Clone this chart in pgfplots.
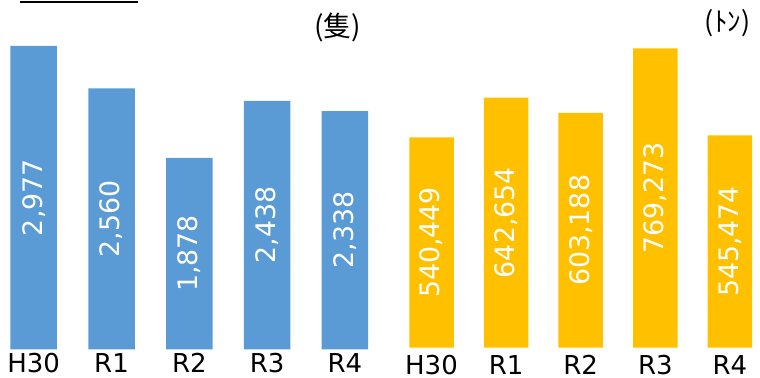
\documentclass[border=0pt]{standalone}
\usepackage{fontspec}
\setmainfont{DejaVu Sans}
\newfontfamily\jp{Noto Sans CJK JP}
\usepackage{pgfplots}
\usepackage{pgfplotstable}
\pgfplotsset{compat=1.18}
\definecolor{cblue}{HTML}{5B9BD5}
\definecolor{cyel}{HTML}{FFC000}
\pgfplotstableread{
i v
0 2977
1 2560
2 1878
3 2438
4 2338
}\ships
\pgfplotstableread{
i v
0 540449
1 642654
2 603188
3 769273
4 545474
}\tons
\pgfplotsset{
  mybase/.style={
    scale only axis, clip=false,
    axis line style={draw=none},
    ytick=\empty, xtick={0,...,4},
    xticklabels={H30,R1,R2,R3,R4},
    major tick length=0pt,
    ymin=0,
    tick label style={font=\fontsize{13pt}{15pt}\selectfont},
    xticklabel style={anchor=base},
    /pgf/number format/.cd, fixed, precision=0, 1000 sep={,}, assume math mode=true,
  },
  lbl/.style={only marks, mark=none, nodes near coords,
    every node near coord/.append style={anchor=center, rotate=90, text=white,
      font=\fontsize{13.4pt}{15pt}\selectfont, inner sep=0pt}},
}
\begin{document}
\begin{tikzpicture}
\path[use as bounding box] (0,0) rectangle (380pt,189pt);
\draw[line width=1.2pt] (10pt,188pt) -- (68.8pt,188pt);
\begin{axis}[mybase, at={(0pt,14.35pt)}, anchor=south west,
  width=190pt, height=174.65pt,
  xmin=-0.4332, xmax=4.451, ymax=3428.5,
  xticklabel style={yshift=-11.85pt}]
\addplot[ybar, bar width=23.25pt, fill=cblue, draw=none] table[x=i,y=v] {\ships};
\addplot[lbl] table[x=i, y expr=\thisrow{v}/2, meta=v, point meta=explicit] {\ships};
\end{axis}
\begin{axis}[mybase, at={(190pt,15.15pt)}, anchor=south west,
  width=190pt, height=173.85pt,
  xmin=-0.6903, xmax=4.4035, ymax=893371,
  xticklabel style={yshift=-13.4pt}]
\addplot[ybar, bar width=22.25pt, fill=cyel, draw=none] table[x=i,y=v] {\tons};
\addplot[lbl] table[x=i, y expr=\thisrow{v}/2, meta=v, point meta=explicit] {\tons};
\end{axis}
\node[font=\jp\fontsize{14pt}{16pt}\selectfont, inner sep=0pt] at (168.75pt,175.25pt) {(隻)};
\node[font=\jp\fontsize{13.5pt}{15pt}\selectfont, inner sep=0pt] at (363.75pt,177.25pt) {(ﾄﾝ)};
\end{tikzpicture}
\end{document}
